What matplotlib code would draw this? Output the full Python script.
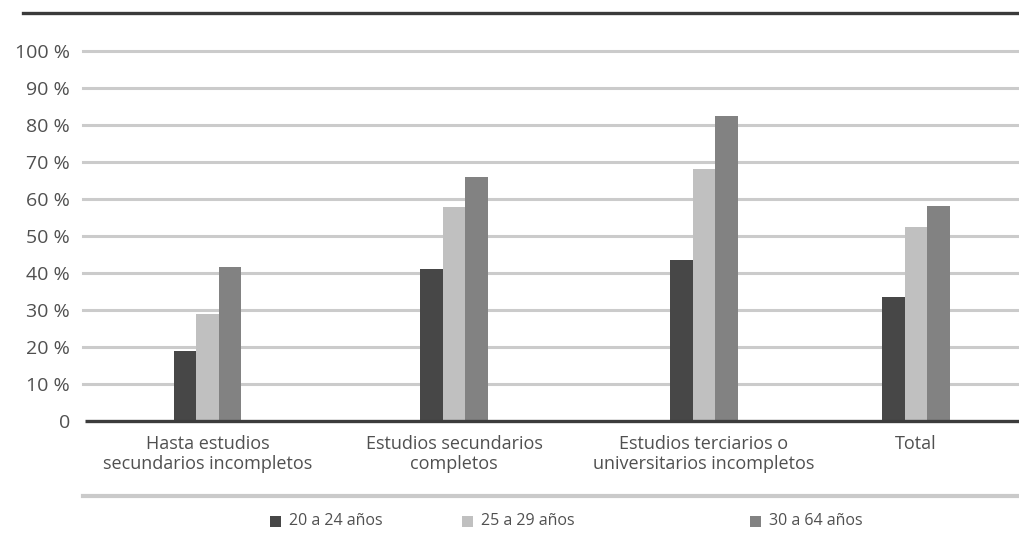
import matplotlib
matplotlib.use("Agg")
import matplotlib.pyplot as plt
from matplotlib.lines import Line2D
from matplotlib.patches import Rectangle

plt.rcParams['font.family'] = ['Open Sans', 'DejaVu Sans']

# Categories, series and labels
categories = [
    "Hasta estudios\nsecundarios incompletos",
    "Estudios secundarios\ncompletos",
    "Estudios terciarios o\nuniversitarios incompletos",
    "Total",
]
series_names = ["20 a 24 años", "25 a 29 años", "30 a 64 años"]
edad_20_24 = [19.0, 41.0, 43.5, 33.5]
edad_25_29 = [29.0, 57.8, 68.0, 52.3]
edad_30_64 = [41.5, 66.0, 82.5, 58.2]
y_ticks = [0, 10, 20, 30, 40, 50, 60, 70, 80, 90, 100]
y_tick_labels = ["0", "10 %", "20 %", "30 %", "40 %", "50 %",
                 "60 %", "70 %", "80 %", "90 %", "100 %"]

colors = ["#474747", "#c0c0c0", "#828282"]
text_color = "#505050"

W, H = 1020, 536
fig = plt.figure(figsize=(W / 100, H / 100), dpi=100)

# Axes placement in pixel terms
left_px, right_px = 83, 1020
bottom_px, top_px = 421, 51
ax = fig.add_axes([left_px / W, (H - bottom_px) / H,
                   (right_px - left_px) / W, (bottom_px - top_px) / H])

group_x = [0.0, 0.99, 1.994, 2.845]
bar_w = 0.09
all_series = [edad_20_24, edad_25_29, edad_30_64]

ax.set_xlim(-0.5, 3.263)
ax.set_ylim(0, 100)

# Horizontal grid lines
for t in y_ticks[1:]:
    ax.axhline(t, color="#cbcbcb", lw=2.2, zorder=0, clip_on=False)

for i, (vals, c) in enumerate(zip(all_series, colors)):
    xs = [g + (i - 1) * bar_w for g in group_x]
    ax.bar(xs, vals, width=bar_w, color=c, zorder=2, linewidth=0)

# Baseline
ax.plot([-0.49, 3.263], [0, 0], color="#3c3c3c", lw=2.4, zorder=3,
        clip_on=False, solid_capstyle="butt")

for s in ax.spines.values():
    s.set_visible(False)

ax.set_yticks(y_ticks)
ax.set_yticklabels(y_tick_labels)
ax.set_xticks(group_x)
ax.set_xticklabels(categories, linespacing=1.12)
ax.tick_params(axis="y", length=0, pad=9.5, labelsize=14, labelcolor=text_color)
ax.tick_params(axis="x", length=0, pad=10, labelsize=13, labelcolor=text_color)

# Decorative rules above and below the chart
fig.add_artist(Line2D([23 / W, 1.0], [(H - 13) / H] * 2, color="#3a3a3a",
                      lw=2.4, transform=fig.transFigure))
fig.add_artist(Line2D([83 / W, 1.0], [(H - 496) / H] * 2, color="#cacaca",
                      lw=3.0, transform=fig.transFigure))

# Legend
legend_px = [270, 462, 750]
ly = 521
sq = 11
for name, c, xp in zip(series_names, colors, legend_px):
    fig.add_artist(Rectangle((xp / W, (H - ly - sq / 2) / H), sq / W, sq / H,
                             transform=fig.transFigure, color=c, lw=0))
    fig.text((xp + sq + 8) / W, (H - ly) / H, name, ha="left", va="center",
             fontsize=11.5, color=text_color)

fig.savefig("out.png", dpi=100, facecolor="white")
